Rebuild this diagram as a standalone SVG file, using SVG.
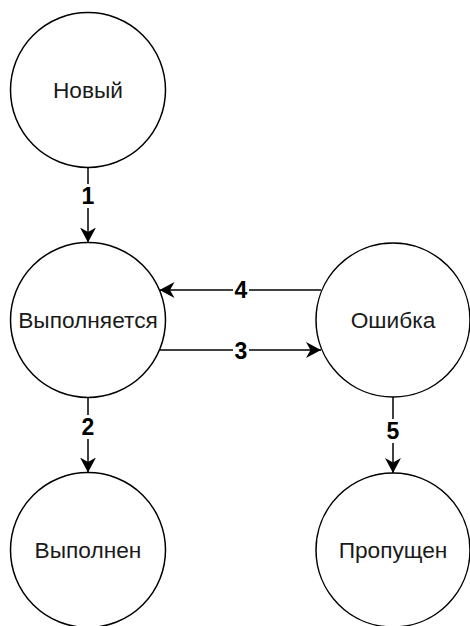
<svg xmlns="http://www.w3.org/2000/svg" width="470" height="626" viewBox="0 0 470 626">
<defs>
<style>
.node circle{fill:#fff;stroke:#000;stroke-width:1.5}
.node text{font-family:"Liberation Sans",Arial,sans-serif;font-size:22.7px;fill:#1a1a1a;text-anchor:middle}
.edge line{stroke:#000;stroke-width:1.5}
.lbl rect{fill:#fff}
.lbl text{font-family:"Liberation Sans",Arial,sans-serif;font-size:23px;font-weight:bold;fill:#000;text-anchor:middle}
</style>
<marker id="arr" viewBox="0 0 15 16" refX="15" refY="8" markerWidth="15" markerHeight="16" markerUnits="userSpaceOnUse" orient="auto">
<path d="M0,0 L15,8 L0,16 L4.5,8 Z" fill="#000"/>
</marker>
</defs>
<g id="connectors" class="edge">
<line x1="88" y1="167.5" x2="88" y2="242.5" marker-end="url(#arr)"/>
<line x1="88" y1="397.5" x2="88" y2="472.5" marker-end="url(#arr)"/>
<line x1="393" y1="397" x2="393" y2="473" marker-end="url(#arr)"/>
<line x1="321" y1="290" x2="159.5" y2="290" marker-end="url(#arr)"/>
<line x1="159.5" y1="350" x2="321" y2="350" marker-end="url(#arr)"/>
<g class="lbl">
<rect x="80" y="184" width="16" height="24"/><text x="88" y="204">1</text>
<rect x="80" y="415" width="16" height="24"/><text x="88" y="435">2</text>
<rect x="385" y="419" width="16" height="24"/><text x="393" y="439">5</text>
<rect x="233" y="278" width="16" height="24"/><text x="241" y="298">4</text>
<rect x="233" y="339" width="16" height="24"/><text x="241" y="359">3</text>
</g>
</g>
<g id="n-new" class="node"><circle cx="88" cy="90" r="77.5"/><text x="88" y="97.5">Новый</text></g>
<g id="n-running" class="node"><circle cx="88" cy="320" r="77.5"/><text x="88" y="327.5">Выполняется</text></g>
<g id="n-error" class="node"><circle cx="393" cy="320" r="77"/><text x="393" y="327.5">Ошибка</text></g>
<g id="n-done" class="node"><circle cx="88" cy="550" r="77.5"/><text x="88" y="557.5">Выполнен</text></g>
<g id="n-skipped" class="node"><circle cx="393" cy="550" r="77"/><text x="393" y="557.5">Пропущен</text></g>
</svg>
